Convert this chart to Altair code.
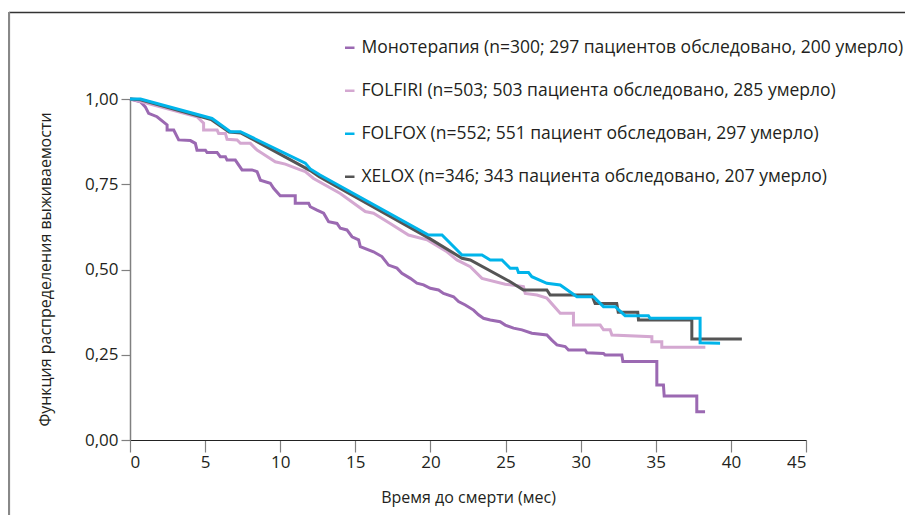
import altair as alt
import pandas as pd

series_labels = [
    "Монотерапия (n=300; 297 пациентов обследовано, 200 умерло)",
    "FOLFIRI (n=503; 503 пациента обследовано, 285 умерло)",
    "FOLFOX (n=552; 551 пациент обследован, 297 умерло)",
    "XELOX (n=346; 343 пациента обследовано, 207 умерло)",
]
series_colors = ["#9b69b2", "#d4a8d1", "#00b4ea", "#555555"]

mono = [(0, 1.0), (0.69, 0.992), (1.02, 0.977), (1.24, 0.958), (1.8, 0.948), (2.47, 0.924),
        (2.47, 0.909), (2.91, 0.909), (3.24, 0.88), (4.02, 0.878), (4.35, 0.87), (4.46, 0.85),
        (5.02, 0.85), (5.13, 0.843), (5.8, 0.843), (6.01, 0.831), (6.35, 0.831), (6.46, 0.821),
        (7.01, 0.821), (7.46, 0.792), (8.12, 0.792), (8.46, 0.787), (8.68, 0.762), (9.34, 0.753),
        (9.56, 0.738), (10.0, 0.716), (11.0, 0.716), (11.0, 0.694), (11.89, 0.694), (12.0, 0.684),
        (12.45, 0.674), (12.89, 0.665), (13.22, 0.64), (13.78, 0.635), (14.0, 0.621), (14.44, 0.616),
        (14.78, 0.596), (15.22, 0.587), (15.33, 0.567), (16.21, 0.552), (16.77, 0.538), (17.21, 0.513),
        (17.77, 0.504), (18.1, 0.489), (18.66, 0.474), (19.1, 0.46), (19.54, 0.455), (19.99, 0.445),
        (20.54, 0.44), (20.87, 0.43), (21.54, 0.42), (21.87, 0.406), (22.32, 0.396), (22.87, 0.381),
        (23.2, 0.367), (23.53, 0.357), (23.98, 0.352), (24.64, 0.347), (24.98, 0.337), (25.53, 0.328),
        (26.09, 0.323), (26.75, 0.313), (27.75, 0.308), (28.08, 0.293), (28.42, 0.279), (28.97, 0.274),
        (29.19, 0.264), (30.3, 0.264), (30.41, 0.256), (31.52, 0.254), (31.63, 0.249), (32.74, 0.249),
        (32.81, 0.23), (35.07, 0.23), (35.07, 0.161), (35.51, 0.161), (35.56, 0.129), (37.73, 0.129),
        (37.73, 0.083), (38.28, 0.083)]

folfiri = [(0, 1.0), (0.1, 1.0), (4.46, 0.948), (4.9, 0.929), (4.9, 0.909), (5.8, 0.909), (5.9, 0.899),
           (6.35, 0.899), (6.46, 0.882), (7.13, 0.88), (7.35, 0.87), (8.01, 0.87), (8.46, 0.85),
           (8.79, 0.841), (9.67, 0.816), (10.34, 0.809), (11.34, 0.792), (11.67, 0.787), (12.22, 0.767),
           (14.0, 0.723), (15.66, 0.67), (16.21, 0.665), (17.32, 0.635), (18.54, 0.601), (19.77, 0.587),
           (21.1, 0.552), (21.76, 0.528), (22.65, 0.508), (23.43, 0.474), (24.98, 0.457), (26.19, 0.45),
           (26.31, 0.43), (27.09, 0.425), (27.75, 0.416), (28.64, 0.372), (29.52, 0.372), (29.52, 0.337),
           (31.3, 0.337), (31.52, 0.323), (31.96, 0.323), (32.08, 0.308), (34.74, 0.303), (34.74, 0.288),
           (35.4, 0.288), (35.4, 0.272), (38.3, 0.272)]

folfox = [(0, 1.0), (0.7, 1.0), (5.46, 0.943), (6.68, 0.904), (7.35, 0.904), (11.67, 0.812),
          (12.0, 0.795), (12.65, 0.777), (19.87, 0.601), (20.77, 0.601), (22.1, 0.5425), (23.43, 0.5425),
          (23.98, 0.528), (24.76, 0.528), (25.31, 0.5035), (25.76, 0.5035), (25.86, 0.491), (26.53, 0.491),
          (26.75, 0.479), (27.75, 0.4595), (28.64, 0.4545), (29.75, 0.42), (30.85, 0.42), (31.52, 0.391),
          (32.3, 0.391), (32.96, 0.3645), (34.51, 0.3645), (34.62, 0.357), (37.95, 0.357), (37.95, 0.285),
          (39.28, 0.284)]

xelox = [(0, 1.0), (0.7, 0.998), (5.4, 0.94), (6.6, 0.903), (7.4, 0.9), (12.0, 0.79), (12.6, 0.772),
         (19.9, 0.592), (22.1, 0.533), (22.65, 0.528), (25.31, 0.464), (26.19, 0.44), (27.75, 0.44),
         (27.97, 0.425), (30.74, 0.425), (30.96, 0.40), (32.4, 0.40), (32.5, 0.375), (33.8, 0.375),
         (33.85, 0.352), (37.4, 0.352), (37.4, 0.296), (40.73, 0.296)]

x_ticks = [0, 5, 10, 15, 20, 25, 30, 35, 40, 45]
y_ticks = [0, 0.25, 0.5, 0.75, 1.0]

rows = []
for label, pts in zip(series_labels, [mono, folfiri, folfox, xelox]):
    for i, (t, s) in enumerate(pts):
        rows.append({"series": label, "t": t, "s": s, "idx": i})
df = pd.DataFrame(rows)

TEXT = "#231f20"
FONT = "Open Sans"

base = alt.Chart(df).mark_line(strokeWidth=3, strokeJoin="miter", strokeCap="butt").encode(
    x=alt.X("t:Q", scale=alt.Scale(domain=[0, 45], nice=False, zero=False),
            axis=alt.Axis(values=x_ticks, title="Время до смерти (мес)", grid=False,
                          domainColor="#222222", domainWidth=1.2, tickColor="#808080",
                          tickWidth=1.2, tickSize=12, labelFontSize=17, labelPadding=2,
                          labelColor=TEXT, labelFont=FONT, titleFont=FONT,
                          titleFontSize=16, titleFontWeight="normal",
                          titleColor=TEXT, titleX=338, titleY=57, titleBaseline="middle")),
    y=alt.Y("s:Q", scale=alt.Scale(domain=[0, 1], nice=False),
            axis=alt.Axis(values=y_ticks, title="Функция распределения выживаемости", grid=False,
                          labelExpr="replace(format(datum.value, '.2f'), '.', ',')",
                          domainColor="#808080", domainWidth=1.5, tickColor="#808080",
                          tickWidth=1.2, tickSize=9, labelFontSize=17, labelPadding=3,
                          labelColor=TEXT, labelFont=FONT, titleFont=FONT,
                          titleFontSize=16, titleFontWeight="normal",
                          titleColor=TEXT, titleX=-85, titleY=170, titleAngle=-90,
                          titleBaseline="middle", titleAlign="center")),
    color=alt.Color("series:N", sort=series_labels,
                    scale=alt.Scale(domain=series_labels, range=series_colors),
                    legend=alt.Legend(orient="none", legendX=211, legendY=-60, title=None,
                                      symbolType="stroke", symbolSize=90, symbolStrokeWidth=2.5,
                                      labelFont=FONT, labelFontSize=17.5, labelColor=TEXT, labelLimit=0,
                                      rowPadding=24, labelOffset=3, padding=0)),
    order=alt.Order("idx:Q"),
)

draw_order = [series_labels[0], series_labels[1], series_labels[3], series_labels[2]]
layers = [base.transform_filter(alt.datum.series == s) for s in draw_order]

frame_df = pd.DataFrame({"a": [0]})
top_line = alt.Chart(frame_df).mark_rule(color="#333333", strokeWidth=1.5).encode(
    x=alt.value(-121), x2=alt.value(776), y=alt.value(-86.5))
left_line = alt.Chart(frame_df).mark_rule(color="#888888", strokeWidth=2.2).encode(
    x=alt.value(-121), y=alt.value(-87), y2=alt.value(420))

chart = alt.layer(top_line, left_line, *layers).properties(
    width=676, height=341,
    padding={"left": 122, "top": 91, "right": 99, "bottom": 75},
    autosize=alt.AutoSizeParams(type="none"),
).configure(font=FONT).configure_view(stroke=None)

chart.save("out.html", embed_options={"renderer": "svg", "actions": False})
